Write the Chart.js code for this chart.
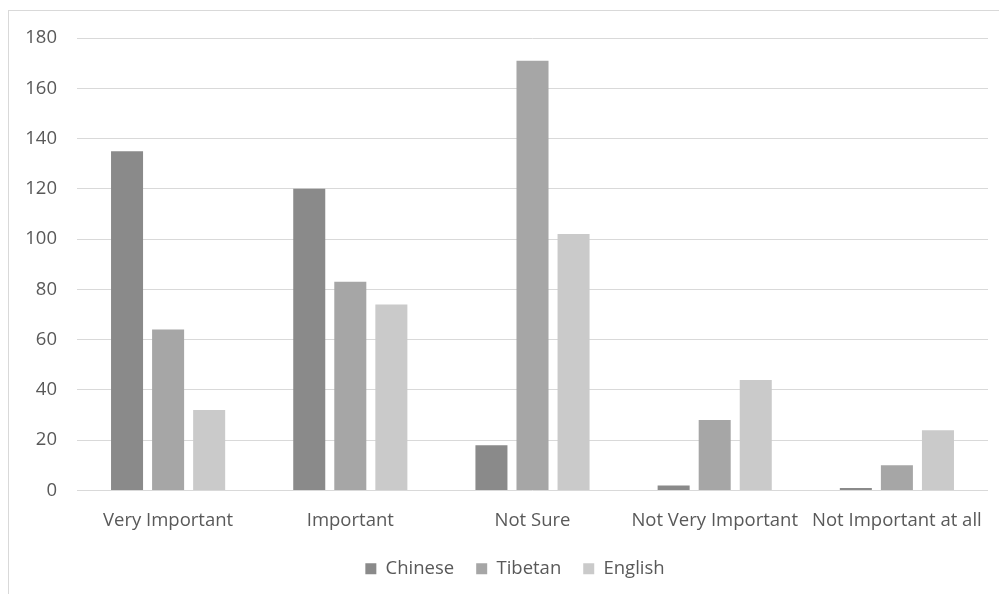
<!DOCTYPE html>
<html>
<head>
<meta charset="utf-8">
<script src="https://cdn.jsdelivr.net/npm/chart.js@4.4.1/dist/chart.umd.min.js"></script>
<style>
  html, body { margin: 0; padding: 0; background: #fff; }
  #wrap { position: relative; width: 999px; height: 594px; overflow: hidden; }
  #frame { position: absolute; left: 8px; top: 10px; width: 1000px; height: 600px; border: 1px solid #d9d9d9; box-sizing: border-box; }
  #c { position: absolute; left: 0; top: 0; }
</style>
</head>
<body>
<div id="wrap">
  <div id="frame"></div>
  <canvas id="c" width="999" height="594"></canvas>
</div>
<script>
const categories = ["Very Important", "Important", "Not Sure", "Not Very Important", "Not Important at all"];
const chinese = [135, 120, 18, 2, 1];
const tibetan = [64, 83, 171, 28, 10];
const english = [32, 74, 102, 44, 24];

const textColor = "#595959";
const font = { family: "'Open Sans', sans-serif", size: 18.5 };

// nudge the legend right so it sits where the original one does
const legendShift = {
  id: "legendShift",
  afterLayout(chart) {
    chart.legend.left += 21;
    chart.legend.right += 21;
  },
};

let myChart = new Chart(document.getElementById("c"), {
  type: "bar",
  plugins: [legendShift],
  data: {
    labels: categories,
    datasets: [
      { label: "Chinese", data: chinese, backgroundColor: "#8a8a8a" },
      { label: "Tibetan", data: tibetan, backgroundColor: "#a6a6a6" },
      { label: "English", data: english, backgroundColor: "#cacaca" },
    ],
  },
  options: {
    responsive: false,
    animation: false,
    layout: { padding: { top: 38, right: 11, left: 0, bottom: 6 } },
    datasets: {
      bar: { categoryPercentage: 0.676, barPercentage: 0.78 },
    },
    scales: {
      x: {
        grid: { display: false },
        border: { display: false },
        ticks: { color: textColor, font: font, padding: 11, maxRotation: 0, autoSkip: false },
        afterFit: (s) => { s.height = 47; },
      },
      y: {
        min: 0,
        max: 180,
        ticks: { stepSize: 20, color: textColor, font: font, padding: 20 },
        grid: { color: "#d9d9d9", lineWidth: 1, drawTicks: false },
        border: { display: false },
        afterFit: (s) => { s.width = 77; },
      },
    },
    plugins: {
      tooltip: false,
      legend: {
        position: "bottom",
        labels: {
          color: textColor,
          font: font,
          boxWidth: 11,
          boxHeight: 11,
          padding: 22,
        },
      },
    },
  },
});
</script>
</body>
</html>
